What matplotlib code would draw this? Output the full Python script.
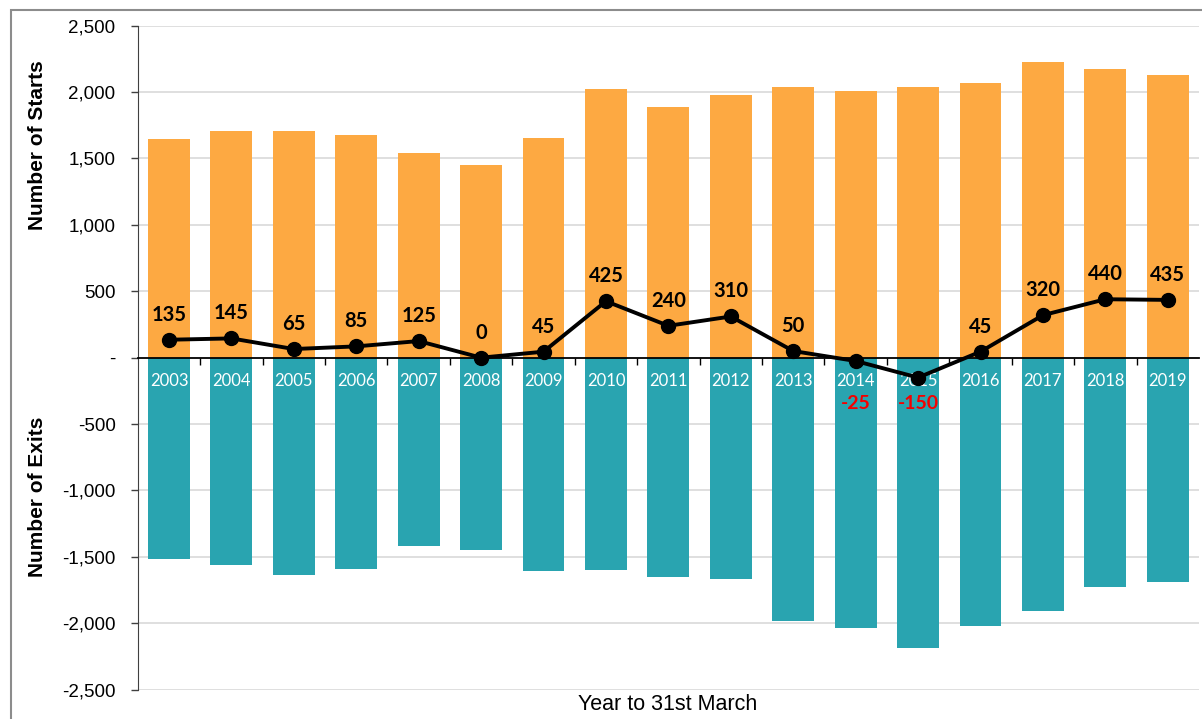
import matplotlib

matplotlib.use("Agg")
import matplotlib.pyplot as plt
from matplotlib.patches import Rectangle
import numpy as np

years = ["2003", "2004", "2005", "2006", "2007", "2008", "2009", "2010", "2011",
         "2012", "2013", "2014", "2015", "2016", "2017", "2018", "2019"]
starts = [1650, 1710, 1705, 1675, 1540, 1450, 1655, 2025, 1890,
          1975, 2035, 2010, 2040, 2065, 2230, 2170, 2125]
exits = [-1515, -1565, -1640, -1590, -1415, -1450, -1610, -1600, -1650,
         -1665, -1985, -2035, -2190, -2020, -1910, -1730, -1690]
net = [135, 145, 65, 85, 125, 0, 45, 425, 240, 310, 50, -25, -150, 45, 320, 440, 435]
ytick_values = [-2500, -2000, -1500, -1000, -500, 0, 500, 1000, 1500, 2000, 2500]
ytick_labels = ["-2,500", "-2,000", "-1,500", "-1,000", "-500", "-",
                "500", "1,000", "1,500", "2,000", "2,500"]

ORANGE = "#FDA942"
TEAL = "#29A4B0"


def main():
    fig = plt.figure(figsize=(12.02, 7.19), dpi=100)
    fig.patches.append(Rectangle((11 / 1202, -0.1), 1.2, 1.1 - 10 / 719,
                                 transform=fig.transFigure, fill=False,
                                 edgecolor="#8C8C8C", linewidth=1.5))
    ax = fig.add_axes([0.1146, 0.0408, 0.8829, 0.9235])
    x = np.arange(len(years))

    # gridlines drawn by hand so the axis (and its tick labels) can sit above the bars
    for value in ytick_values:
        if value != 0:
            ax.axhline(value, color="#D9D9D9", linewidth=1.2, zorder=0)

    ax.bar(x, starts, width=0.67, color=ORANGE, zorder=1)
    ax.bar(x, exits, width=0.67, color=TEAL, zorder=1)
    ax.plot(x, net, color="black", linewidth=2.8, marker="o", markersize=10, zorder=4)

    for xi, value in zip(x, net):
        if value < 0:
            ax.annotate(str(value), (xi, 0), xytext=(0, -33), textcoords="offset points",
                        ha="center", va="center", fontsize=14, fontweight="bold",
                        color="#F50000", family="Lato", zorder=5)
        else:
            ax.annotate(str(value), (xi, value), xytext=(0, 18), textcoords="offset points",
                        ha="center", va="center", fontsize=14.5, fontweight="bold",
                        color="black", family="Lato", zorder=5)

    ax.set_xlim(-0.5, len(years) - 0.5)
    ax.set_ylim(-2500, 2500)
    ax.set_yticks(ytick_values)
    ax.set_yticklabels(ytick_labels, family="Liberation Sans", fontsize=13.5)
    ax.tick_params(axis="y", length=5, width=1, color="#404040", pad=11)

    ax.spines["top"].set_visible(False)
    ax.spines["right"].set_visible(False)
    ax.spines["left"].set_color("#404040")
    ax.spines["bottom"].set_position(("data", 0))
    ax.spines["bottom"].set_color("black")
    ax.spines["bottom"].set_linewidth(1.3)

    ax.set_xticks(x[:-1] + 0.5)
    ax.set_xticklabels([])
    ax.tick_params(axis="x", which="major", length=5, width=1, direction="out")
    ax.set_xticks(x, minor=True)
    ax.set_xticklabels(years, minor=True, color="white", fontsize=12, family="Lato")
    ax.tick_params(axis="x", which="minor", length=0, pad=11)

    fig.text(38 / 1202, 1 - 145 / 719, "Number of Starts", rotation=90, ha="center",
             va="center", fontsize=15, fontweight="bold", family="Liberation Sans")
    fig.text(38 / 1202, 1 - 497 / 719, "Number of Exits", rotation=90, ha="center",
             va="center", fontsize=15, fontweight="bold", family="Liberation Sans")
    fig.text(668 / 1202, 1 - 704 / 719, "Year to 31st March", ha="center", va="center",
             fontsize=15.5, family="Liberation Sans")

    fig.savefig("out.png", dpi=100)


if __name__ == "__main__":
    main()
